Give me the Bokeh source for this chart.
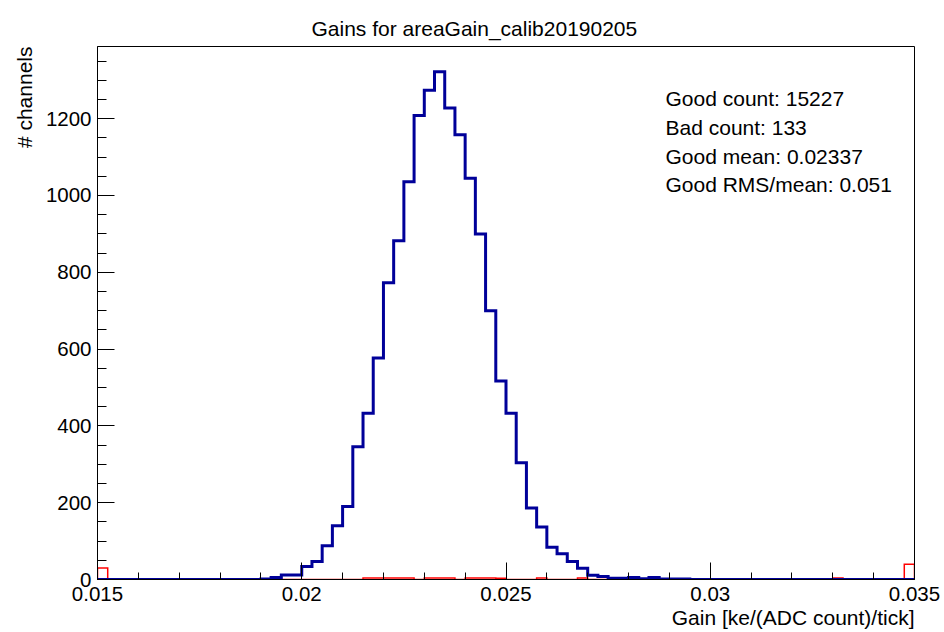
import numpy as np
from bokeh.plotting import figure
from bokeh.models import Range1d, Label, Title, FixedTicker, SingleIntervalTicker, CustomJSTickFormatter
from bokeh.embed import file_html
from bokeh.resources import INLINE

# ---------------- data ----------------
x_min, x_max, n_bins = 0.015, 0.035, 80

good_counts = (
    [0] * 16
    + [1, 5, 12, 12, 34, 47, 88, 140, 190, 346,
       433, 577, 773, 882, 1036, 1208, 1274, 1322, 1228, 1158,
       1045, 900, 700, 517, 433, 304, 186, 137, 84, 67,
       47, 29, 11, 8, 3, 3, 5, 2, 5, 1,
       1, 1]
    + [0] * 22
)

bad_bins = [0, 26, 27, 28, 29, 30, 32, 33, 34, 36, 37, 38, 39, 43, 47, 50, 72, 79]
bad_vals = [30, 4, 4, 4, 4, 4, 4, 4, 4, 4, 4, 4, 3, 4, 4, 4, 4, 40]

x_ticks = [0.015, 0.02, 0.025, 0.03, 0.035]
y_tick_step = 200
y_top = 1388

title_text = "Gains for areaGain_calib20190205"
x_title = "Gain [ke/(ADC count)/tick]"
y_title = "# channels"
stats_lines = ["Good count: 15227", "Bad count: 133",
               "Good mean: 0.02337", "Good RMS/mean: 0.051"]

# ---------------- layout constants ----------------
W, H = 944, 632
FL, FR, FT, FB = 97, 914, 46, 579   # frame edges in canvas px (top origin)
FONT = "Liberation Sans"

edges = np.linspace(x_min, x_max, n_bins + 1)
bad_counts = np.zeros(n_bins)
bad_counts[bad_bins] = bad_vals


def step_xy(counts):
    xs = np.repeat(edges, 2)
    ys = np.concatenate([[0], np.repeat(np.asarray(counts, float), 2), [0]])
    return xs, ys


p = figure(width=W, height=H, output_backend="svg", toolbar_location=None,
           x_range=Range1d(x_min, x_max), y_range=Range1d(0, y_top),
           min_border_left=FL, min_border_right=W - FR,
           min_border_top=FT, min_border_bottom=H - FB)
p.background_fill_color = "white"
p.border_fill_color = "white"
p.outline_line_color = "black"
p.outline_line_width = 1
p.xgrid.visible = False
p.ygrid.visible = False

# title (above)
p.title.text = title_text
p.title.align = "left"
p.title.offset = 214
p.title.text_font = FONT
p.title.text_font_size = "21px"
p.title.text_font_style = "normal"
p.title.text_color = "black"
p.title.vertical_align = "top"
p.title.standoff = 10

# axis titles as side-panel titles
xt = Title(text=x_title, align="right", offset=0, text_font=FONT,
           text_font_size="21px", text_font_style="normal", text_color="black",
           standoff=0)
p.add_layout(xt, "below")
yt = Title(text=y_title, align="right", offset=0, text_font=FONT,
           text_font_size="21px", text_font_style="normal", text_color="black",
           standoff=14)
p.add_layout(yt, "left")

bx, by = step_xy(bad_counts)
p.line(bx, by, line_color="#ff0000", line_width=1.5, line_join="miter")
gx, gy = step_xy(good_counts)
p.line(gx, gy, line_color="#000099", line_width=3, line_join="miter")

minor_x = [round(v, 4) for v in np.arange(x_min, x_max + 1e-9, 0.001)]
p.xaxis.ticker = FixedTicker(ticks=x_ticks, minor_ticks=minor_x)
p.xaxis.formatter = CustomJSTickFormatter(code="return String(Number(tick.toFixed(4)));")
p.yaxis.ticker = SingleIntervalTicker(interval=y_tick_step, num_minor_ticks=4)

for ax in (p.xaxis, p.yaxis):
    ax.axis_line_color = "black"
    ax.major_tick_line_color = "black"
    ax.minor_tick_line_color = "black"
    ax.major_tick_out = 0
    ax.minor_tick_out = 0
    ax.major_label_text_font = FONT
    ax.major_label_text_font_size = "20.5px"
    ax.major_label_text_color = "black"
p.xaxis.major_tick_in = 17
p.xaxis.minor_tick_in = 7
p.yaxis.major_tick_in = 17
p.yaxis.minor_tick_in = 9
p.xaxis.major_label_standoff = 7
p.yaxis.major_label_standoff = 6


# stats box text, placed in frame-relative screen units
def add_label(text, cx, cy_top, size="21px"):
    p.add_layout(Label(x=cx - FL, y=FB - cy_top, x_units="screen", y_units="screen",
                       text=text, text_align="left", text_baseline="alphabetic",
                       text_font=FONT, text_font_size=size, text_color="black"))


for i, s in enumerate(stats_lines):
    add_label(s, 665, 98.3 + i * 28.6)

open("out.html", "w").write(file_html(p, INLINE))
